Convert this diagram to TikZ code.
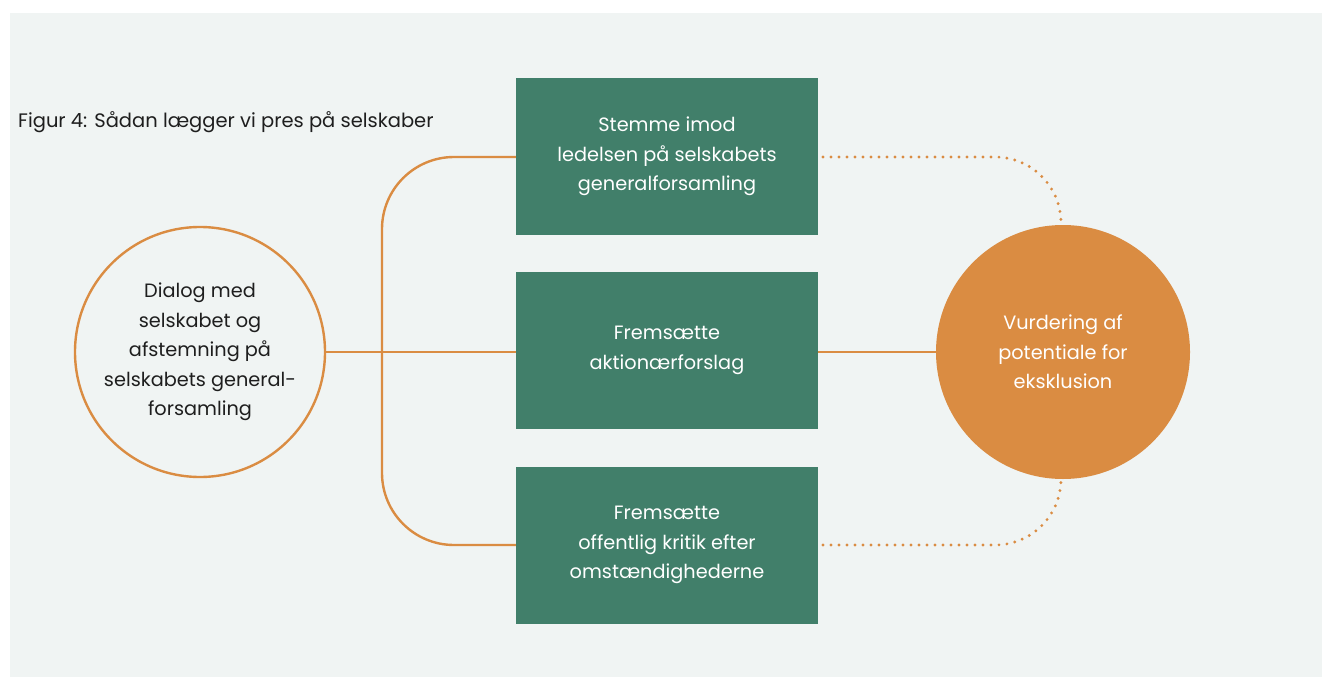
\documentclass[tikz,border=0pt]{standalone}
\usepackage{fontspec}
\setmainfont{Poppins}
\definecolor{bgc}{HTML}{F0F4F3}
\definecolor{boxg}{HTML}{417F6A}
\definecolor{org}{HTML}{DA8C42}
\definecolor{txt}{HTML}{1E1E1E}
\begin{document}
\begin{tikzpicture}[x=1pt,y=-1pt,
  box/.style={fill=boxg,draw=none,minimum width=302pt,minimum height=157pt,inner sep=0pt,text=white,align=center,font=\fontsize{19.3}{29.5}\selectfont},
  conn/.style={draw=org,line width=2.4pt},
  dotc/.style={draw=org,line width=3.2pt,line cap=round,dash pattern=on 0pt off 8pt},
  ]
\useasboundingbox (0,0) rectangle (1322,677);
\fill[bgc] (10,13) rectangle (1322,677);
\node[anchor=base west,text=txt,font=\fontsize{19.5}{23}\selectfont,inner sep=0pt] (title) at (18,127) {Figur 4: Sådan lægger vi pres på selskaber};
\node[box] (b1) at (667,156.5) {Stemme imod\\ledelsen på selskabets\\generalforsamling};
\node[box] (b2) at (667,350.5) {Fremsætte\\aktionærforslag};
\node[box] (b3) at (667,545) {Fremsætte\\offentlig kritik efter\\omstændighederne};
\node[circle,draw=org,line width=2.4pt,fill=bgc,minimum size=250pt,inner sep=0pt,text=txt,align=center,font=\fontsize{19.3}{29.5}\selectfont] (lc) at (200,352) {Dialog med\\selskabet og\\afstemning på\\selskabets general-\\forsamling};
\node[circle,fill=org,minimum size=254pt,inner sep=0pt,text=white,align=center,font=\fontsize{19.3}{29.5}\selectfont] (rc) at (1063,352) {Vurdering af\\potentiale for\\eksklusion};
\draw[conn] (lc.east) -- (b2.west |- lc.east);
\draw[conn] (b2.east |- rc.west) -- (rc.west);
\draw[conn,rounded corners=72pt] (b1.west |- 0,157) -- (382,157) -- (382,545) -- (b3.west |- 0,545);
\draw[dotc,rounded corners=66pt] (823,157) -- (1061,157) -- (rc.north -| 1061,0);
\draw[dotc,rounded corners=66pt] (823,545) -- (1061,545) -- (rc.south -| 1061,0);
\end{tikzpicture}
\end{document}
